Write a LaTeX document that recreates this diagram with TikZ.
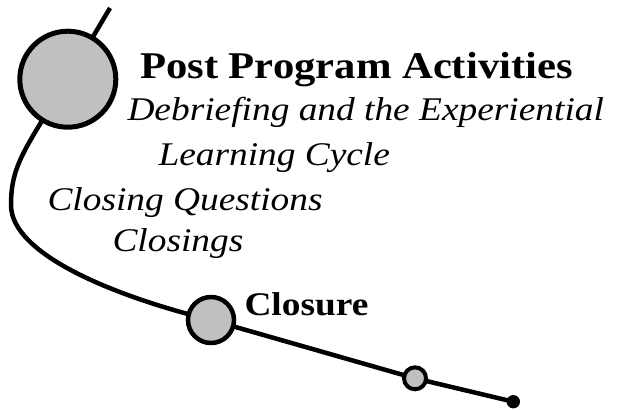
\documentclass[tikz,border=0pt]{standalone}
\usepackage{fontspec}
\setmainfont{Liberation Serif}[FakeStretch=1.13]
\usetikzlibrary{backgrounds}
\definecolor{stopgray}{RGB}{192,192,192}
\begin{document}
\begin{tikzpicture}[x=1bp,y=-1bp,
  stopdot/.style={circle,draw=black,fill=stopgray,inner sep=0pt,outer sep=0pt},
  enddot/.style={circle,fill=black,inner sep=0pt,outer sep=0pt},
  trail/.style={draw=black,line width=4.5bp},
  lbl/.style={anchor=base west,inner sep=0pt,outer sep=0pt},
  headfont/.style={font=\fontsize{37.9}{40}\selectfont\bfseries},
  subfont/.style={font=\fontsize{33.2}{36}\selectfont\itshape},
  stagefont/.style={font=\fontsize{33.2}{36}\selectfont\bfseries}]
\useasboundingbox (0,0) rectangle (619,409);

% stops along the trail
\node[stopdot,line width=5bp,minimum size=96bp] (big) at (67.8,79.2) {};
\node[stopdot,line width=4.5bp,minimum size=46bp] (mid) at (211,320) {};
\node[stopdot,line width=4bp,minimum size=22bp] (small) at (415,378.3) {};
\node[enddot,minimum size=13.4bp] (last) at (513.3,401.7) {};
\coordinate (top) at (110,8);
\coordinate (bend) at (11,205);

% the trail itself, behind the stops
\begin{scope}[on background layer]
  \draw[trail] (top) -- (big.center)
    .. controls (25,149) and (11,165) .. (bend)
    .. controls (11,255) and (117,297) .. (mid.center)
    -- (small.center) -- (last.center);
\end{scope}

% labels
\node[lbl,headfont] (post) at (140,78.3) {Post Program Activities};
\node[lbl,subfont] (debrief) at (127.5,120) {Debriefing and the Experiential};
\node[lbl,subfont] (cycle) at (158.5,165) {Learning Cycle};
\node[lbl,subfont] (questions) at (47.5,210) {Closing Questions};
\node[lbl,subfont] (closings) at (112.5,251.7) {Closings};
\node[lbl,stagefont] (closure) at (244.5,315) {Closure};
\end{tikzpicture}
\end{document}
